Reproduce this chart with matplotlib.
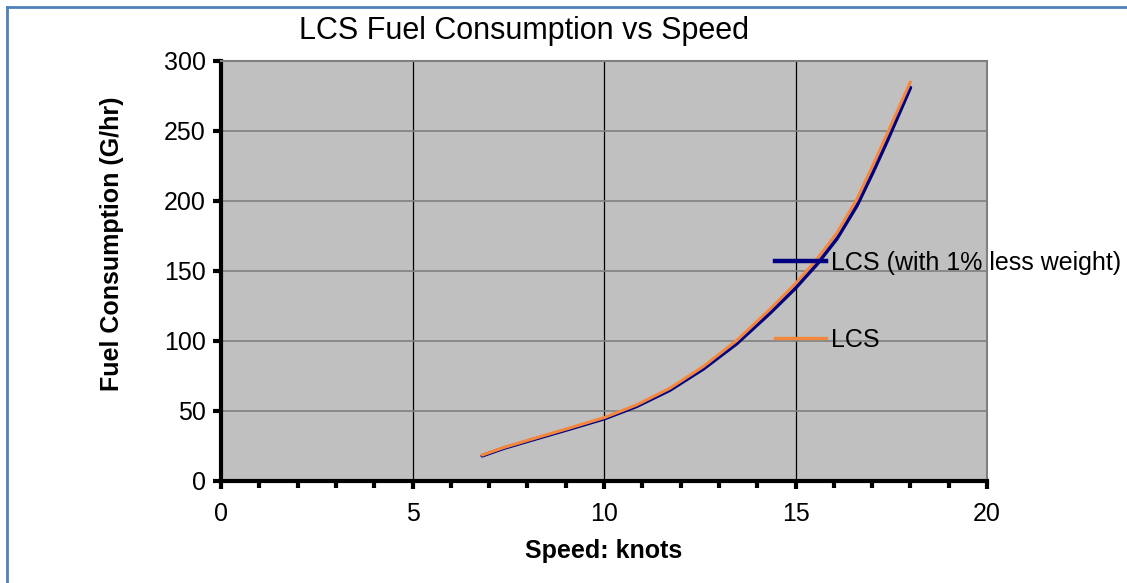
import matplotlib.pyplot as plt
from matplotlib.lines import Line2D

plt.rcParams['font.family'] = ['Liberation Sans', 'DejaVu Sans']

# speed (knots) vs fuel (G/hr)
speed = [6.82, 7.37, 8.24, 9.11, 10.03, 10.85, 11.72, 12.59, 13.46, 14.33,
         15.0, 15.55, 16.08, 16.6, 17.03, 17.38, 18.0]
fuel_lcs = [18.5, 23.8, 30.9, 37.9, 45.5, 54.3, 66.2, 81.7, 100.2, 122.6,
            141.0, 158.0, 177.0, 201.0, 226.0, 247.0, 285.0]
fuel_lighter = [18.0, 23.3, 30.3, 37.2, 44.7, 53.3, 64.9, 80.0, 98.0, 119.8,
                137.8, 154.5, 173.0, 196.5, 221.0, 242.0, 281.0]

labels = ['LCS (with 1% less weight)', 'LCS']
title = 'LCS Fuel Consumption vs Speed'

fig = plt.figure(figsize=(11.27, 5.83), dpi=100)
ax = fig.add_axes([221 / 1127, 1 - 481 / 583, 766 / 1127, 420 / 583])
ax.set_facecolor('#C0C0C0')

ax.plot(speed, fuel_lighter, color='#000080', lw=2.6, label=labels[0],
        solid_capstyle='round', solid_joinstyle='round')
ax.plot(speed, fuel_lcs, color='#F4873C', lw=2.2, label=labels[1],
        solid_capstyle='round', solid_joinstyle='round')

ax.set_xlim(0, 20)
ax.set_ylim(0, 300)
ax.set_xticks([0, 5, 10, 15, 20])
ax.set_xticks(range(0, 21), minor=True)
ax.set_yticks(range(0, 301, 50))

# grid: black verticals, grey horizontals
for xv in [5, 10, 15]:
    ax.axvline(xv, color='black', lw=0.9, zorder=0.5)
for yv in range(50, 300, 50):
    ax.axhline(yv, color='#808080', lw=1.2, zorder=0.5)

for s in ['left', 'bottom']:
    ax.spines[s].set_linewidth(3)
    ax.spines[s].set_color('black')
for s in ['top', 'right']:
    ax.spines[s].set_linewidth(1.5)
    ax.spines[s].set_color('#808080')

ax.tick_params(axis='both', which='major', direction='out', length=6, width=3,
               labelsize=18, pad=5)
ax.tick_params(axis='x', which='minor', direction='out', length=5, width=3)
ax.tick_params(axis='x', which='major', pad=9)

ax.set_xlabel('Speed: knots', fontsize=18, fontweight='bold', va='center')
ax.set_ylabel('Fuel Consumption (G/hr)', fontsize=18, fontweight='bold', va='center')
ax.xaxis.set_label_coords(0.5, (481 - 551) / 420)
ax.yaxis.set_label_coords((112 - 221) / 766, (481 - 244) / 420)

fig.text(524 / 1127, 1 - 31 / 583, title, ha='center', va='center', fontsize=22)

leg_handles = [Line2D([], [], color='#000080', lw=3.2),
               Line2D([], [], color='#F4873C', lw=2.4)]
fig.legend(leg_handles, labels, loc='upper left',
           bbox_to_anchor=(775 / 1127, 1 - 251 / 583), frameon=False,
           fontsize=18, handlelength=2.05, handletextpad=0.2, labelspacing=2.1,
           borderaxespad=0, borderpad=0)

# blue frame on left and top edges
fig.add_artist(Line2D([7 / 1127, 7 / 1127], [0, 1 - 7 / 583], color='#4F81BD', lw=2,
                      transform=fig.transFigure))
fig.add_artist(Line2D([7 / 1127, 1], [1 - 7 / 583, 1 - 7 / 583], color='#4F81BD', lw=2,
                      transform=fig.transFigure))

fig.savefig('out.png', dpi=100)
